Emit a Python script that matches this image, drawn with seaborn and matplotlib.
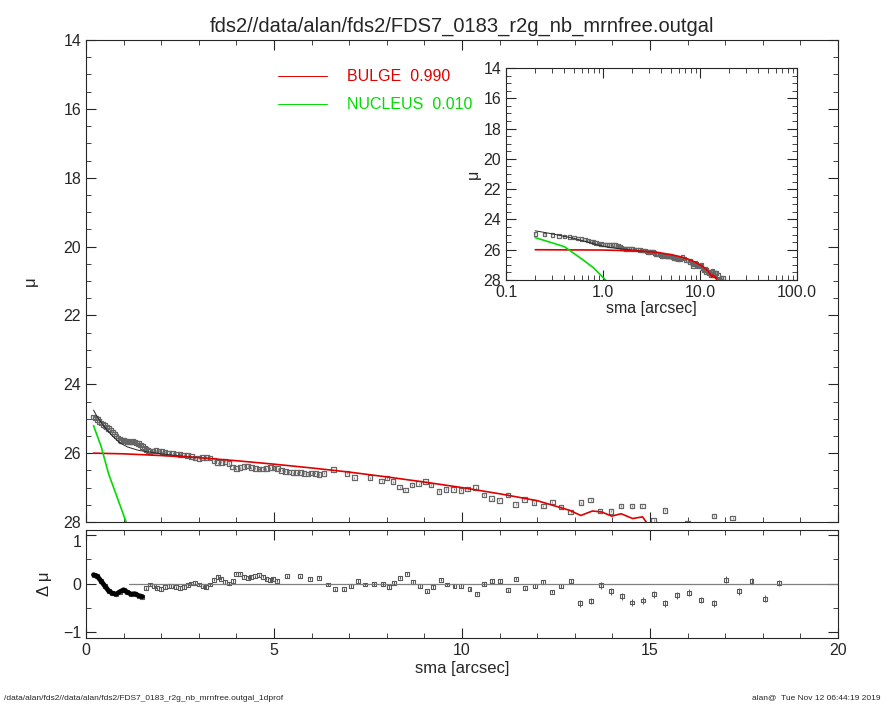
import numpy as np
import pandas as pd
import matplotlib
matplotlib.use("Agg")
import matplotlib.pyplot as plt
import seaborn as sns
from matplotlib.ticker import MultipleLocator

sns.set_style("ticks")
plt.rcParams['font.family'] = ['Liberation Sans', 'DejaVu Sans']

# ---- data ----
sma = [0.2,0.25,0.3,0.35,0.4,0.45,0.5,0.55,0.6,0.65,0.7,0.75,0.8,0.85,0.9,0.95,1.0,1.05,1.1,1.15,1.2,1.25,1.3,1.35,1.4,1.45,1.5,1.55,1.6,1.65,1.7,1.78,1.86,1.94,2.02,2.1,2.2,2.3,2.4,2.5,2.6,2.7,2.8,2.9,3.0,3.1,3.2,3.3,3.4,3.5,3.6,3.7,3.8,3.9,4.0,4.1,4.2,4.3,4.4,4.5,4.6,4.7,4.8,4.9,5.0,5.1,5.2,5.3,5.4,5.5,5.6,5.7,5.8,5.9,6.0,6.1,6.2,
       6.33,6.58,6.94,7.14,7.55,7.86,8.01,8.16,8.34,8.49,8.67,8.85,9.03,9.18,9.39,9.57,9.78,9.97,10.15,10.36,10.58,10.79,10.99,11.22,11.43,11.66,11.91,12.16,12.4,12.63,12.89,13.16,13.42,13.67,13.96,14.23,14.52,14.8,15.1,15.4,16.0,16.7,17.2,17.8,18.4]
mu = [24.95,24.98,25.02,25.08,25.12,25.16,25.2,25.24,25.28,25.33,25.38,25.44,25.5,25.56,25.6,25.63,25.64,25.65,25.66,25.68,25.68,25.67,25.68,25.7,25.72,25.76,25.8,25.85,25.9,25.93,25.95,25.94,25.93,25.94,25.96,25.98,26.0,26.0,26.02,26.04,26.05,26.06,26.1,26.14,26.15,26.13,26.12,26.14,26.22,26.28,26.27,26.24,26.3,26.4,26.45,26.42,26.38,26.37,26.42,26.44,26.46,26.46,26.45,26.42,26.43,26.45,26.5,26.53,26.55,26.57,26.57,26.56,26.59,26.6,26.58,26.59,26.62,
      26.59,26.48,26.59,26.71,26.71,26.81,26.72,26.83,26.98,27.07,26.93,26.89,26.83,26.93,27.11,27.05,27.05,27.08,27.04,27.0,27.22,27.32,27.37,27.22,27.49,27.34,27.44,27.54,27.42,27.56,27.71,27.44,27.36,27.68,27.69,27.53,27.53,27.54,27.95,27.66,28.05,27.82,27.88,28.2,28.1]

res_sma = [0.2,0.3,0.4,0.5,0.6,0.7,0.8,0.9,1.0,1.1,1.2,1.3,1.4,1.5,1.6,1.7,1.8,1.9,2.0,2.1,2.2,2.3,2.4,2.5,2.6,2.7,2.8,2.9,3.0,3.1,3.2,3.3,3.4,3.5,3.6,3.7,3.8,3.9,4.0,4.1,4.2,4.3,4.4,4.5,4.6,4.7,4.8,4.9,
           4.97,5.09,5.34,5.7,5.95,6.19,6.43,6.62,6.86,7.05,7.23,7.41,7.66,7.9,8.05,8.2,8.36,8.53,8.69,8.88,9.06,9.22,9.43,9.61,9.8,9.98,10.2,10.4,10.59,10.8,11.01,11.23,11.44,11.68,11.93,12.15,12.39,12.64,12.9,13.15,13.42,13.7,13.97,14.25,14.53,14.82,15.1,15.41,15.71,16.04,16.36,16.69,17.02,17.36,17.7,18.06,18.42]
res = [0.18,0.15,0.05,-0.05,-0.15,-0.2,-0.22,-0.17,-0.13,-0.18,-0.22,-0.21,-0.25,-0.27,-0.1,-0.02,-0.05,-0.1,-0.11,-0.08,-0.05,-0.06,-0.08,-0.09,-0.07,-0.03,0.0,0.01,-0.02,-0.06,-0.07,-0.02,0.08,0.13,0.1,0.03,0.0,0.05,0.2,0.2,0.14,0.12,0.13,0.15,0.17,0.14,0.1,0.07,
       0.1,0.06,0.15,0.15,0.1,0.12,-0.02,-0.12,-0.12,-0.05,0.05,-0.02,-0.01,-0.01,-0.07,0.01,0.12,0.2,0.03,-0.05,-0.16,-0.07,0.08,-0.02,-0.05,-0.05,-0.12,-0.21,-0.01,0.05,0.05,-0.14,0.1,-0.1,-0.05,0.03,-0.17,-0.05,0.05,-0.41,-0.36,-0.04,-0.16,-0.26,-0.39,-0.35,-0.22,-0.41,-0.24,-0.19,-0.34,-0.41,0.08,-0.16,0.05,-0.31,0.01]

bulge_sma = [0.2,1,2,3,4,5,6,7,8,9,10,11,12,12.86,13.16,13.47,13.72,13.98,14.23,14.54,14.8,14.9]
bulge_mu = [26.0,26.02,26.07,26.13,26.22,26.32,26.43,26.55,26.69,26.84,27.0,27.18,27.38,27.66,27.81,27.68,27.71,27.83,27.76,27.9,27.85,28.0]
nuc_sma = [0.2,0.4,0.6,0.8,1.1,1.3]
nuc_mu = [25.2,25.8,26.6,27.2,28.1,28.6]
tot_sma = [0.2,0.3,0.5,0.7,0.9,1.1,1.4,1.7,2.0,2.5,3.0]
tot_mu = [24.75,24.95,25.25,25.5,25.7,25.82,25.92,25.97,26.02,26.08,26.13]

prof = pd.DataFrame({"sma": sma, "mu": mu})
resd = pd.DataFrame({"sma": res_sma, "res": res})
bul = pd.DataFrame({"sma": bulge_sma, "mu": bulge_mu})
nuc = pd.DataFrame({"sma": nuc_sma, "mu": nuc_mu})
tot = pd.DataFrame({"sma": tot_sma, "mu": tot_mu})

fig = plt.figure(figsize=(8.85, 7.08), dpi=100)
ax = fig.add_axes([0.0972, 0.2627, 0.8497, 0.6808])
axr = fig.add_axes([0.0972, 0.0989, 0.8497, 0.1525])
axi = fig.add_axes([0.5718, 0.6045, 0.3288, 0.2994])

def style(a, ls=11.5):
    a.tick_params(which='both', direction='in', top=True, right=True, labelsize=ls)
    a.tick_params(which='major', length=7)
    a.tick_params(which='minor', length=3.5)
    for s in a.spines.values():
        s.set_linewidth(0.8)

def draw_profile(a, ms, lw_err):
    a.errorbar(prof["sma"], prof["mu"], yerr=0.03, fmt='none', ecolor='0.4', lw=lw_err)
    sns.scatterplot(data=prof, x="sma", y="mu", ax=a, marker='s', s=ms,
                    facecolor='none', edgecolor='0.4', linewidth=0.9, legend=False)
    sns.lineplot(data=tot, x="sma", y="mu", ax=a, color='0.15', lw=0.7, sort=False)
    sns.lineplot(data=bul, x="sma", y="mu", ax=a, color='#e00000', lw=1.2, sort=False)
    sns.lineplot(data=nuc, x="sma", y="mu", ax=a, color='#00dd00', lw=1.2, sort=False)

draw_profile(ax, 11, 0.5)
ax.set_xlim(0, 20)
ax.set_ylim(28, 14)
ax.xaxis.set_major_locator(MultipleLocator(5))
ax.xaxis.set_minor_locator(MultipleLocator(1))
ax.yaxis.set_major_locator(MultipleLocator(2))
ax.yaxis.set_minor_locator(MultipleLocator(0.5))
ax.set_xticklabels([])
ax.set_xlabel("")
ax.set_ylabel("μ", fontsize=12, labelpad=18)
style(ax)
ax.plot([0.255, 0.32], [0.925, 0.925], transform=ax.transAxes, color='#e00000', lw=0.7)
ax.plot([0.255, 0.32], [0.867, 0.867], transform=ax.transAxes, color='#00dd00', lw=0.7)
ax.text(0.347, 0.925, "BULGE  0.990", transform=ax.transAxes, color='#e00000', fontsize=11.5, va='center')
ax.text(0.347, 0.867, "NUCLEUS  0.010", transform=ax.transAxes, color='#00dd00', fontsize=11.5, va='center')
ax.set_title("fds2//data/alan/fds2/FDS7_0183_r2g_nb_mrnfree.outgal", fontsize=14.5, pad=6)

# residuals
axr.axhline(0, xmin=(1.15/20), color='0.5', lw=0.9)
axr.errorbar(resd["sma"], resd["res"], yerr=np.where(resd["sma"] > 13, 0.07, 0.035), fmt='none', ecolor='0.35', lw=0.7)
inner = resd[resd["sma"] <= 1.5]
sns.lineplot(data=inner, x="sma", y="res", ax=axr, color='black', lw=3.5, sort=False)
sns.scatterplot(data=resd, x="sma", y="res", ax=axr, marker='s', s=8,
                facecolor='none', edgecolor='0.35', linewidth=0.8, legend=False)
axr.set_xlim(0, 20)
axr.set_ylim(-1.12, 1.10)
axr.xaxis.set_major_locator(MultipleLocator(5))
axr.xaxis.set_minor_locator(MultipleLocator(1))
axr.yaxis.set_major_locator(MultipleLocator(1))
axr.yaxis.set_minor_locator(MultipleLocator(0.5))
axr.set_xlabel("sma [arcsec]", fontsize=12, labelpad=2)
axr.set_ylabel("Δ μ", fontsize=12, labelpad=8)
style(axr)
for lab in axr.get_yticklabels():
    if lab.get_text() == "1":
        lab.set_va('top')

# inset
draw_profile(axi, 6, 0.4)
axi.set_xscale('log')
axi.set_xlim(0.1, 100)
axi.set_ylim(28, 14)
axi.set_xticks([0.1, 1, 10, 100])
axi.set_xticklabels(["0.1", "1.0", "10.0", "100.0"])
axi.yaxis.set_major_locator(MultipleLocator(2))
axi.yaxis.set_minor_locator(MultipleLocator(0.5))
axi.set_xlabel("sma [arcsec]", fontsize=11.5, labelpad=1)
axi.set_ylabel("μ", fontsize=11.5, labelpad=2)
style(axi)

fig.text(0.005, 0.012, "/data/alan/fds2//data/alan/fds2/FDS7_0183_r2g_nb_mrnfree.outgal_1dprof", fontsize=6)
fig.text(0.995, 0.012, "alan@  Tue Nov 12 06:44:19 2019", fontsize=6, ha='right')

fig.savefig("out.png", dpi=100)
